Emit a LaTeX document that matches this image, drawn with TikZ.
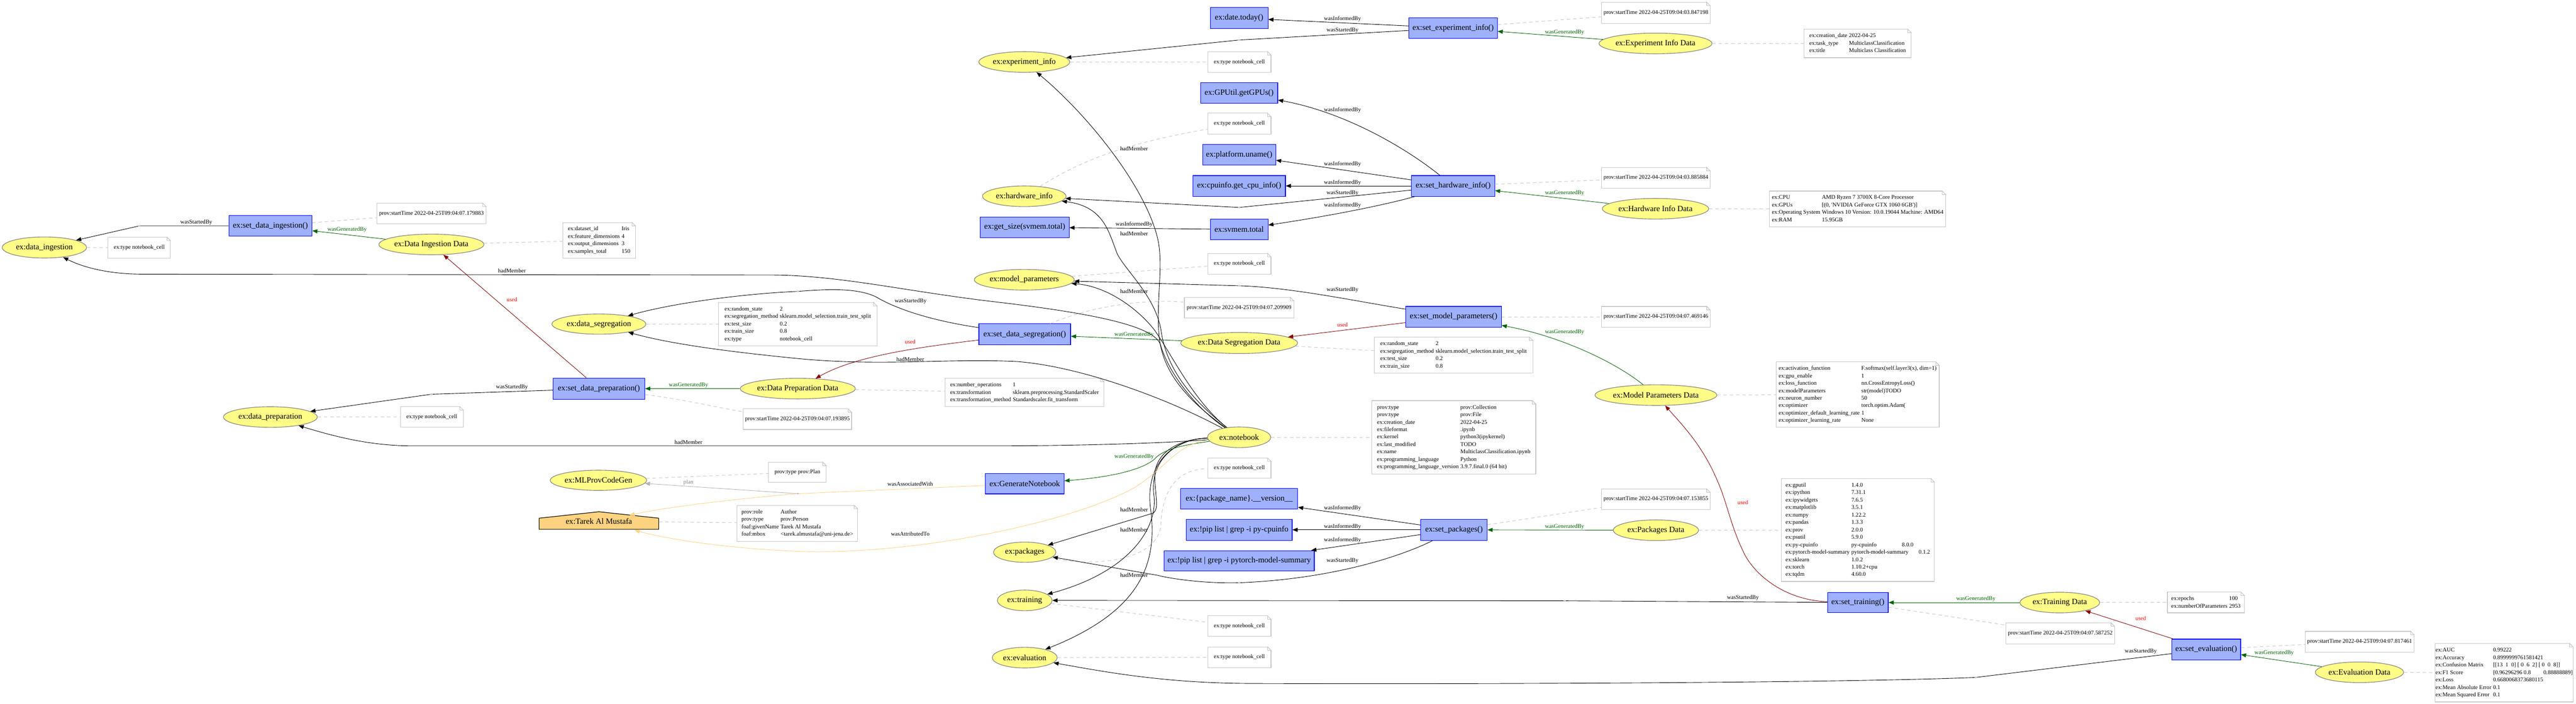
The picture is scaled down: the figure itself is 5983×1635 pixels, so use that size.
\documentclass[tikz,border=0pt]{standalone}
\usepackage{fontspec}
\setmainfont{Liberation Serif}
\usetikzlibrary{arrows.meta,shapes.geometric}
\definecolor{actfill}{HTML}{9FB1FC}
\definecolor{actdraw}{HTML}{0000FF}
\definecolor{entfill}{HTML}{FFFC87}
\definecolor{entdraw}{HTML}{808080}
\definecolor{agfill}{HTML}{FED37F}
\definecolor{notedraw}{HTML}{C8C8C8}
\definecolor{gencol}{HTML}{006400}
\definecolor{usedc}{HTML}{8B0000}
\definecolor{usedl}{HTML}{FF0000}
\definecolor{assoc}{HTML}{FED37F}
\definecolor{planc}{HTML}{B4B4B4}
\definecolor{vpcol}{HTML}{BEBEBE}
\newcommand\nfont{\fontsize{14}{16}\selectfont}
\newcommand\sfont{\fontsize{10}{13}\selectfont}
\newcommand\kv[1]{\begin{tabular}{@{}l@{\hspace{3pt}}l@{}}#1\end{tabular}}
\newcommand\fold[1]{%
  \fill[white] ([xshift=1pt,yshift=1pt]#1.north east) -- ([xshift=-6pt,yshift=1pt]#1.north east) -- ([xshift=1pt,yshift=-6pt]#1.north east) -- cycle;
  \draw[notedraw,line width=1pt,line join=miter] ([xshift=-6pt]#1.north east) -- ([yshift=-6pt]#1.north east) -- ([xshift=-6pt,yshift=-6pt]#1.north east) -- cycle;}
\begin{document}
\begin{tikzpicture}[x=0.75pt,y=-0.75pt,
  sz/.style 2 args={minimum width=#1*0.75pt, minimum height=#2*0.75pt},
  act/.style={rectangle, draw=actdraw, fill=actfill, line width=1pt, font=\nfont, inner sep=1pt},
  ent/.style={ellipse, draw=entdraw, fill=entfill, line width=1pt, font=\nfont, inner sep=0pt},
  note/.style={rectangle, draw=notedraw, fill=white, line width=1pt, font=\sfont, inner sep=0pt, outer sep=0pt, align=left},
  lbl/.style={font=\sfont, inner sep=0pt},
  vpdot/.style={circle, fill=vpcol, inner sep=0pt, minimum size=3.5pt},
  arr/.style={line width=0.8pt, -{Triangle[length=9pt,width=7pt]}},
  blk/.style={arr, draw=black},
  grn/.style={arr, draw=gencol},
  redd/.style={arr, draw=usedc},
  org/.style={arr, draw=assoc},
  pln/.style={arr, draw=planc},
  dsh/.style={draw=notedraw, line width=0.9pt, dash pattern=on 6pt off 5pt}]
\fill[white] (0,0) rectangle (5983,1635);
\useasboundingbox (0,0) rectangle (5983,1635);

% ---------- activities
\node[act, sz={193}{48}] (sdi) at (628,525) {ex:set\_data\_ingestion()};
\node[act, sz={213}{49}] (sdp) at (1391,903) {ex:set\_data\_preparation()};
\node[act, sz={213}{49}] (sds) at (2380,777) {ex:set\_data\_segregation()};
\node[act, sz={183}{47}] (gen) at (2380,1124) {ex:GenerateNotebook};
\node[act, sz={134}{49}] (date) at (2878,42) {ex:date.today()};
\node[act, sz={179}{48}] (gpu) at (2878,216) {ex:GPUtil.getGPUs()};
\node[act, sz={170}{48}] (plat) at (2878,360) {ex:platform.uname()};
\node[act, sz={215}{48}] (cpu) at (2878,432) {ex:cpuinfo.get\_cpu\_info()};
\node[act, sz={206}{48}] (getsize) at (2380,528) {ex:get\_size(svmem.total)};
\node[act, sz={134}{48}] (svmem) at (2878,533) {ex:svmem.total};
\node[act, sz={205}{48}] (sei) at (3375,65) {ex:set\_experiment\_info()};
\node[act, sz={193}{48}] (shi) at (3375,432) {ex:set\_hardware\_info()};
\node[act, sz={222}{48}] (smp) at (3376,736) {ex:set\_model\_parameters()};
\node[act, sz={272}{48}] (pkgn) at (2878,1159) {ex:\{package\_name\}.\_\_version\_\_};
\node[act, sz={246}{49}] (pipcpu) at (2878,1231) {ex:!pip list | grep -i py-cpuinfo};
\node[act, sz={349}{47}] (piptorch) at (2878,1303) {ex:!pip list | grep -i pytorch-model-summary};
\node[act, sz={154}{49}] (spk) at (3377,1231) {ex:set\_packages()};
\node[act, sz={141}{47}] (str) at (4315,1400) {ex:set\_training()};
\node[act, sz={160}{48}] (sev) at (5124,1509) {ex:set\_evaluation()};

% ---------- entities
\node[ent, sz={196}{49}] (di) at (103,575) {ex:data\_ingestion};
\node[ent, sz={244}{48}] (did) at (1002,568) {ex:Data Ingestion Data};
\node[ent, sz={218}{47}] (dseg) at (1391,753) {ex:data\_segregation};
\node[ent, sz={218}{48}] (dprep) at (628,969) {ex:data\_preparation};
\node[ent, sz={267}{48}] (dpd) at (1853,903) {ex:Data Preparation Data};
\node[ent, sz={270}{49}] (dsd) at (2878,797) {ex:Data Segregation Data};
\node[ent, sz={147}{48}] (nb) at (2878,1016) {ex:notebook};
\node[ent, sz={224}{47}] (mlp) at (1390,1116) {ex:MLProvCodeGen};
\node[ent, sz={211}{48}] (expi) at (2379,144) {ex:experiment\_info};
\node[ent, sz={194}{48}] (hwi) at (2379,456) {ex:hardware\_info};
\node[ent, sz={232}{48}] (mpar) at (2379,650) {ex:model\_parameters};
\node[ent, sz={145}{47}] (pkgs) at (2380,1283) {ex:packages};
\node[ent, sz={127}{48}] (trn) at (2380,1395) {ex:training};
\node[ent, sz={151}{48}] (evl) at (2380,1528) {ex:evaluation};
\node[ent, sz={261}{48}] (eid) at (3845,101) {ex:Experiment Info Data};
\node[ent, sz={247}{48}] (hid) at (3845,485) {ex:Hardware Info Data};
\node[ent, sz={283}{48}] (mpd) at (3846,918) {ex:Model Parameters Data};
\node[ent, sz={198}{48}] (pd) at (3846,1232) {ex:Packages Data};
\node[ent, sz={185}{48}] (td) at (4784,1400) {ex:Training Data};
\node[ent, sz={205}{48}] (ed) at (5480,1562) {ex:Evaluation Data};

% ---------- agent
\draw[fill=agfill, draw=black, line width=1pt] (1252,1230) -- (1252,1204) -- (1391,1189) -- (1530,1204) -- (1530,1230) -- cycle;
\node[font=\nfont, sz={278}{41}, inner sep=0pt] (tarek) at (1391,1211) {ex:Tarek Al Mustafa};
\coordinate (tarekR) at (1462,1197);
\coordinate (tarekB) at (1474,1232);

% ---------- notes
\node[note, sz={145}{49}] (nDi) at (323.5,575.5) {ex:type notebook\_cell};
\node[note, sz={254}{48}] (nSdi) at (1002,496) {prov:startTime 2022-04-25T09:04:07.179883};
\node[note, sz={169}{83}] (tDid) at (1391.5,558.5) {\kv{ex:dataset\_id & Iris\\ ex:feature\_dimensions & 4\\ ex:output\_dimensions & 3\\ ex:samples\_total & 150}};
\node[note, sz={146}{48}] (nDprep) at (1003,969) {ex:type notebook\_cell};
\node[note, sz={368}{100}] (tDseg) at (1853,753) {\kv{ex:random\_state & 2\\ ex:segregation\_method & sklearn.model\_selection.train\_test\_split\\ ex:test\_size & 0.2\\ ex:train\_size & 0.8\\ ex:type & notebook\_cell}};
\node[note, sz={369}{66}] (tDpd) at (2379.5,912) {\kv{ex:number\_operations & 1\\ ex:transformation & sklearn.preprocessing.StandardScaler\\ ex:transformation\_method & Standardscaler.fit\_transform}};
\node[note, sz={252}{48}] (nSdp) at (1852,974) {prov:startTime 2022-04-25T09:04:07.193895};
\node[note, sz={254}{48}] (nSds) at (2878,715) {prov:startTime 2022-04-25T09:04:07.209909};
\node[note, sz={134}{47}] (nMlp) at (1852,1097.5) {prov:type prov:Plan};
\node[note, sz={280}{84}] (tTarek) at (1852,1216) {\kv{prov:role & Author\\ prov:type & prov:Person\\ foaf:givenName & Tarek Al Mustafa\\ foaf:mbox & <tarek.almustafa@uni-jena.de>}};
\node[note, sz={147}{48}] (nExpi) at (2878.5,144) {ex:type notebook\_cell};
\node[note, sz={147}{49}] (nHwi) at (2878.5,287.5) {ex:type notebook\_cell};
\node[note, sz={147}{48}] (nMpar) at (2878.5,613) {ex:type notebook\_cell};
\node[note, sz={147}{47}] (nPkgs) at (2878.5,1087.5) {ex:type notebook\_cell};
\node[note, sz={147}{47}] (nTrn) at (2878.5,1454.5) {ex:type notebook\_cell};
\node[note, sz={147}{48}] (nEvl) at (2878.5,1527) {ex:type notebook\_cell};
\node[note, sz={252}{49}] (nSei) at (3846,29.5) {prov:startTime 2022-04-25T09:04:03.847198};
\node[note, sz={249}{66}] (tEid) at (4314.5,101) {\kv{ex:creation\_date & 2022-04-25\\ ex:task\_type & MulticlassClassification\\ ex:title & Multiclass Classification}};
\node[note, sz={252}{48}] (nShi) at (3846,413) {prov:startTime 2022-04-25T09:04:03.885884};
\node[note, sz={409}{83}] (tHid) at (4314.5,485.5) {\kv{ex:CPU & AMD Ryzen 7 3700X 8-Core Processor\\ ex:GPUs & [(0, \textquotesingle NVIDIA GeForce GTX 1060 6GB\textquotesingle)]\\ ex:Operating System & Windows 10 Version: 10.0.19044 Machine: AMD64\\ ex:RAM & 15.95GB}};
\node[note, sz={252}{48}] (nSmp) at (3846,736) {prov:startTime 2022-04-25T09:04:07.469146};
\node[note, sz={368}{84}] (tDsd) at (3376,825) {\kv{ex:random\_state & 2\\ ex:segregation\_method & sklearn.model\_selection.train\_test\_split\\ ex:test\_size & 0.2\\ ex:train\_size & 0.8}};
\node[note, sz={381}{170}] (tNb) at (3376.5,1016) {\kv{prov:type & prov:Collection\\ prov:type & prov:File\\ ex:creation\_date & 2022-04-25\\ ex:fileformat & .ipynb\\ ex:kernel & python3(ipykernel)\\ ex:last\_modified & TODO\\ ex:name & MulticlassClassification.ipynb\\ ex:programming\_language & Python\\ ex:programming\_language\_version & 3.9.7.final.0 (64 bit)}};
\node[note, sz={379}{152}] (tMpd) at (4314.5,917) {\kv{ex:activation\_function & F.softmax(self.layer3(x), dim=1)\\ ex:gpu\_enable & 1\\ ex:loss\_function & nn.CrossEntropyLoss()\\ ex:modelParameters & str(model)TODO\\ ex:neuron\_number & 50\\ ex:optimizer & torch.optim.Adam(\\ ex:optimizer\_default\_learning\_rate & 1\\ ex:optimizer\_learning\_rate & None}};
\node[note, sz={252}{48}] (nSpk) at (3846,1160) {prov:startTime 2022-04-25T09:04:07.153855};
\node[note, sz={356}{239}] (tPd) at (4315,1231.5) {\kv{ex:gputil & 1.4.0\\ ex:ipython & 7.31.1\\ ex:ipywidgets & 7.6.5\\ ex:matplotlib & 3.5.1\\ ex:numpy & 1.22.2\\ ex:pandas & 1.3.3\\ ex:prov & 2.0.0\\ ex:psutil & 5.9.0\\ ex:py-cpuinfo & \makebox[88pt][l]{py-cpuinfo}8.0.0\\ ex:pytorch-model-summary & \makebox[117pt][l]{pytorch-model-summary}0.1.2\\ ex:sklearn & 1.0.2\\ ex:torch & 1.10.2+cpu\\ ex:tqdm & 4.60.0}};
\node[note, sz={252}{49}] (nStr) at (4785,1471.5) {prov:startTime 2022-04-25T09:04:07.587252};
\node[note, sz={179}{48}] (tTd) at (5123.5,1400) {\kv{ex:epochs & 100\\ ex:numberOfParameters & 2953}};
\node[note, sz={253}{48}] (nSev) at (5480.5,1491) {prov:startTime 2022-04-25T09:04:07.817461};
\node[note, sz={320}{136}] (tEd) at (5816,1563) {\kv{ex:AUC & 0.99222\\ ex:Accuracy & 0.8999999761581421\\ ex:Confusion Matrix & [[13\ \ 1\ \ 0] [\ 0\ \ 6\ \ 2] [\ 0\ \ 0\ \ 8]]\\ ex:F1 Score & [0.96296296 0.8\hspace{22pt}0.88888889]\\ ex:Loss & 0.6680068373680115\\ ex:Mean Absolute Error & 0.1\\ ex:Mean Squared Error & 0.1}};
\foreach \n in {nDi,nSdi,tDid,nDprep,tDseg,tDpd,nSdp,nSds,nMlp,tTarek,nExpi,nHwi,nMpar,nPkgs,nTrn,nEvl,nSei,tEid,nShi,tHid,nSmp,tDsd,tNb,tMpd,nSpk,tPd,nStr,tTd,nSev,tEd}{\fold{\n}}

% ---------- via points
\node[vpdot] (vp1) at (323,525) {};
\node[vpdot] (vp2) at (1002,916) {};
\node[vpdot] (vp3) at (1853,677) {};
\node[vpdot] (vp4) at (1853,1147) {};
\node[vpdot] (vp5) at (2878,93) {};
\node[vpdot] (vp6) at (2878,482) {};
\node[vpdot] (vp7) at (2878,664) {};
\node[vpdot] (vp8) at (2878,1354) {};
\node[vpdot] (vp9) at (3634,1396) {};
\node[vpdot] (vp10) at (4589,1574) {};

% ---------- dashed attribute links
\draw[dsh] (di) -- (nDi);
\draw[dsh] (sdi) -- (nSdi);
\draw[dsh] (did) -- (tDid);
\draw[dsh] (dprep) -- (nDprep);
\draw[dsh] (dseg) -- (tDseg);
\draw[dsh] (dpd) -- (tDpd);
\draw[dsh] (sdp) .. controls (1600,930) and (1680,950) .. (nSdp);
\draw[dsh] (sds) .. controls (2550,705) and (2680,695) .. (nSds);
\draw[dsh] (mlp) -- (nMlp);
\draw[dsh] (tarek) -- (tTarek);
\draw[dsh] (expi) -- (nExpi);
\draw[dsh] (hwi) .. controls (2500,380) and (2600,335) .. (nHwi);
\draw[dsh] (mpar) -- (nMpar);
\draw[dsh] (pkgs) .. controls (2550,1320) and (2690,1300) .. (2696,1220) .. controls (2700,1130) and (2740,1090) .. (nPkgs);
\draw[dsh] (trn) -- (nTrn);
\draw[dsh] (evl) -- (nEvl);
\draw[dsh] (nb) -- (tNb);
\draw[dsh] (sei) -- (nSei);
\draw[dsh] (eid) -- (tEid);
\draw[dsh] (shi) -- (nShi);
\draw[dsh] (hid) -- (tHid);
\draw[dsh] (smp) -- (nSmp);
\draw[dsh] (mpd) -- (tMpd);
\draw[dsh] (dsd) -- (tDsd);
\draw[dsh] (spk) -- (nSpk);
\draw[dsh] (pd) -- (tPd);
\draw[dsh] (str) -- (nStr);
\draw[dsh] (td) -- (tTd);
\draw[dsh] (sev) -- (nSev);
\draw[dsh] (ed) -- (tEd);

% ---------- left part
\draw[blk] (sdi) -- (vp1) -- (di);
\draw[grn] (did) -- (sdi);
\draw[redd] (sdp) -- (did);
\draw[blk] (sdp) -- (vp2) -- (dprep);
\draw[grn] (dpd) -- (sdp);
\draw[redd] (sds) .. controls (2150,805) and (1990,825) .. (dpd);
\draw[grn] (dsd) -- (sds);
\draw[blk] (sds) .. controls (2130,740) and (2060,705) .. (2035,690) .. controls (1990,668) and (1920,672) .. (vp3) .. controls (1720,683) and (1560,705) .. (dseg);

% ---------- notebook members
\draw[blk] (nb) .. controls (2700,920) and (2500,850) .. (2361,840) .. controls (2200,832) and (2050,852) .. (1852,833) .. controls (1700,818) and (1560,800) .. (dseg);
\draw[blk] (nb) .. controls (2780,950) and (2715,870) .. (2695,800) .. controls (2680,760) and (2560,730) .. (2300,700) .. controls (2100,676) and (1950,640) .. (1794,639) -- (330,637) .. controls (250,637) and (190,620) .. (di);
\draw[blk] (nb) .. controls (2700,1030) and (2500,1036) .. (2300,1036) -- (960,1036) .. controls (860,1036) and (780,1015) .. (dprep);
\draw[blk] (nb) .. controls (2765,935) and (2700,870) .. (2692,780) .. controls (2685,700) and (2702,620) .. (2690,560) .. controls (2665,440) and (2530,270) .. (expi);
\draw[blk] (nb) .. controls (2770,930) and (2710,860) .. (2697,770) .. controls (2685,690) and (2615,630) .. (2595,590) .. controls (2575,540) and (2565,480) .. (hwi);
\draw[blk] (nb) .. controls (2770,930) and (2720,820) .. (2680,765) .. controls (2640,715) and (2570,665) .. (mpar);
\draw[blk] (nb) .. controls (2740,1020) and (2680,1050) .. (2682,1110) .. controls (2684,1160) and (2692,1180) .. (2679,1192) -- (pkgs);
\draw[blk] (nb) .. controls (2730,1020) and (2670,1070) .. (2680,1150) .. controls (2690,1230) and (2620,1330) .. (trn);
\draw[blk] (nb) .. controls (2720,1020) and (2660,1080) .. (2672,1180) .. controls (2690,1310) and (2650,1420) .. (evl);
\draw[grn] (nb) .. controls (2740,1035) and (2700,1045) .. (2680,1068) .. controls (2640,1100) and (2540,1112) .. (gen);

% ---------- agent / plan
\draw[org] (gen) -- (vp4) .. controls (1700,1160) and (1550,1178) .. (tarekR);
\draw[pln] (vp4) -- (mlp);
\draw[org] (nb) .. controls (2730,1030) and (2700,1100) .. (2620,1141) .. controls (2450,1225) and (2100,1290) .. (1854,1281) .. controls (1700,1275) and (1560,1255) .. (tarekB);

% ---------- experiment / hardware
\draw[blk] (sei) -- (date);
\draw[blk] (sei) -- (vp5) -- (expi);
\draw[grn] (eid) -- (sei);
\draw[blk] (shi) .. controls (3260,340) and (3120,260) .. (gpu);
\draw[blk] (shi) -- (plat);
\draw[blk] (shi) -- (cpu);
\draw[blk] (shi) -- (vp6) -- (hwi);
\draw[blk] (shi) .. controls (3220,475) and (3100,500) .. (svmem);
\draw[blk] (svmem) -- (getsize);
\draw[grn] (hid) -- (shi);

% ---------- model parameters
\draw[blk] (smp) .. controls (3150,700) and (3000,668) .. (vp7) -- (mpar);
\draw[redd] (smp) -- (dsd);
\draw[grn] (mpd) .. controls (3750,840) and (3620,780) .. (smp);

% ---------- packages
\draw[blk] (spk) -- (pkgn);
\draw[blk] (spk) -- (pipcpu);
\draw[blk] (spk) -- (piptorch);
\draw[blk] (spk) .. controls (3260,1290) and (3100,1345) .. (vp8) .. controls (2800,1356) and (2720,1345) .. (2690,1337) -- (pkgs);
\draw[grn] (pd) -- (spk);

% ---------- training / evaluation
\draw[blk] (str) -- (vp9) -- (trn);
\draw[redd] (str) .. controls (4150,1395) and (4080,1340) .. (4053,1290) .. controls (4020,1225) and (4012,1170) .. (3990,1120) .. controls (3955,1035) and (3905,985) .. (mpd);
\draw[grn] (td) -- (str);
\draw[redd] (sev) -- (td);
\draw[blk] (sev) -- (vp10) .. controls (4300,1586) and (3500,1590) .. (2900,1588) .. controls (2700,1587) and (2560,1560) .. (evl);
\draw[grn] (ed) -- (sev);

% ---------- edge labels
\node[lbl] (l1) at (456,517) {wasStartedBy};
\node[lbl, text=gencol] (l2) at (806,533) {wasGeneratedBy};
\node[lbl, text=usedl] (l3) at (1189,696) {used};
\node[lbl] (l4) at (1189,629) {hadMember};
\node[lbl] (l5) at (1189,900) {wasStartedBy};
\node[lbl, text=gencol] (l6) at (1599,895) {wasGeneratedBy};
\node[lbl] (l7) at (1599,1028) {hadMember};
\node[lbl, text=usedl] (l8) at (2114,794) {used};
\node[lbl] (l9) at (2114,835) {hadMember};
\node[lbl] (l10) at (2115,700) {wasStartedBy};
\node[lbl, text=gencol] (l11) at (2634,778) {wasGeneratedBy};
\node[lbl, text=entdraw] (l12) at (1599,1121) {plan};
\node[lbl] (l13) at (2114,1125) {wasAssociatedWith};
\node[lbl] (l14) at (2114,1241) {wasAttributedTo};
\node[lbl, text=gencol] (l15) at (2634,1061) {wasGeneratedBy};
\node[lbl] (l16) at (2634,345) {hadMember};
\node[lbl] (l17) at (2634,521) {wasInformedBy};
\node[lbl] (l18) at (2634,543) {hadMember};
\node[lbl] (l19) at (2634,677) {hadMember};
\node[lbl] (l20) at (2634,1184) {hadMember};
\node[lbl] (l21) at (2634,1231) {hadMember};
\node[lbl] (l22) at (2634,1336) {hadMember};
\node[lbl] (l23) at (3118,44) {wasInformedBy};
\node[lbl] (l24) at (3118,71) {wasStartedBy};
\node[lbl] (l25) at (3118,256) {wasInformedBy};
\node[lbl] (l26) at (3118,381) {wasInformedBy};
\node[lbl] (l27) at (3118,424) {wasInformedBy};
\node[lbl] (l28) at (3118,448) {wasStartedBy};
\node[lbl] (l29) at (3118,477) {wasInformedBy};
\node[lbl] (l30) at (3118,673) {wasStartedBy};
\node[lbl, text=usedl] (l31) at (3118,755) {used};
\node[lbl] (l32) at (3118,1181) {wasInformedBy};
\node[lbl] (l33) at (3118,1224) {wasInformedBy};
\node[lbl] (l34) at (3118,1255) {wasInformedBy};
\node[lbl] (l35) at (3118,1303) {wasStartedBy};
\node[lbl, text=gencol] (l36) at (3634,75) {wasGeneratedBy};
\node[lbl, text=gencol] (l37) at (3634,448) {wasGeneratedBy};
\node[lbl, text=gencol] (l38) at (3634,772) {wasGeneratedBy};
\node[lbl, text=gencol] (l39) at (3634,1224) {wasGeneratedBy};
\node[lbl] (l40) at (4048,1389) {wasStartedBy};
\node[lbl, text=usedl] (l41) at (4048,1168) {used};
\node[lbl, text=gencol] (l42) at (4589,1392) {wasGeneratedBy};
\node[lbl, text=usedl] (l43) at (4972,1437) {used};
\node[lbl] (l44) at (4972,1514) {wasStartedBy};
\node[lbl, text=gencol] (l45) at (5282,1517) {wasGeneratedBy};
\end{tikzpicture}
\end{document}
